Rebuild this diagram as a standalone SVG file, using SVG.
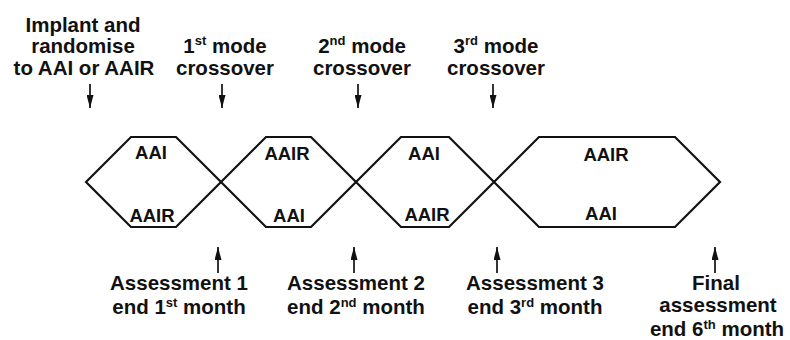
<svg xmlns="http://www.w3.org/2000/svg" width="790" height="340" viewBox="0 0 790 340">
<style>
  text { font-family: "Liberation Sans", Arial, sans-serif; font-weight: bold; fill: #111; text-anchor: middle; }
  .lbl { font-size: 20.5px; }
  .in { font-size: 18.5px; }
  .sup { font-size: 13px; }
  .hex { fill: none; stroke: #111; stroke-width: 2.2; stroke-linejoin: miter; }
  .arr { stroke: #111; stroke-width: 1.7; fill: none; }
</style>
<defs>
  <marker id="ah" viewBox="0 0 13 7" refX="13" refY="3.5" markerWidth="13" markerHeight="7" markerUnits="userSpaceOnUse" orient="auto">
    <path d="M0,0 L13,3.5 L0,7 Z" fill="#111"/>
  </marker>
</defs>
<rect width="790" height="340" fill="#fff"/>

<g id="connectors">
  <line class="arr" x1="90" y1="84" x2="90" y2="108" marker-end="url(#ah)"/>
  <line class="arr" x1="222" y1="84" x2="222" y2="108" marker-end="url(#ah)"/>
  <line class="arr" x1="358" y1="84" x2="358" y2="108" marker-end="url(#ah)"/>
  <line class="arr" x1="493" y1="84" x2="493" y2="108" marker-end="url(#ah)"/>
  <line class="arr" x1="218" y1="273" x2="218" y2="247" marker-end="url(#ah)"/>
  <line class="arr" x1="354" y1="273" x2="354" y2="247" marker-end="url(#ah)"/>
  <line class="arr" x1="497" y1="273" x2="497" y2="247" marker-end="url(#ah)"/>
  <line class="arr" x1="715" y1="273" x2="715" y2="247" marker-end="url(#ah)"/>
</g>

<g id="hex1">
  <polygon class="hex" points="86,182 131,137 176,137 221,182 176,227 131,227"/>
  <text class="in" x="151" y="159">AAI</text>
  <text class="in" x="152" y="222">AAIR</text>
</g>
<g id="hex2">
  <polygon class="hex" points="221,182 266,137 311,137 356,182 311,227 266,227"/>
  <text class="in" x="287" y="160">AAIR</text>
  <text class="in" x="289" y="222">AAI</text>
</g>
<g id="hex3">
  <polygon class="hex" points="356,182 401,137 449,137 494,182 449,227 401,227"/>
  <text class="in" x="424" y="160">AAI</text>
  <text class="in" x="427" y="221">AAIR</text>
</g>
<g id="hex4">
  <polygon class="hex" points="494,182 539,137 675,137 720,182 675,227 539,227"/>
  <text class="in" x="606" y="161">AAIR</text>
  <text class="in" x="601" y="220">AAI</text>
</g>

<g id="label-implant">
  <text class="lbl" x="83" y="32">Implant and</text>
  <text class="lbl" x="83" y="53">randomise</text>
  <text class="lbl" x="84" y="75">to AAI or AAIR</text>
</g>
<g id="label-cross1">
  <text class="lbl" x="225" y="53">1<tspan class="sup" dy="-8">st</tspan><tspan dy="8"> mode</tspan></text>
  <text class="lbl" x="225" y="75">crossover</text>
</g>
<g id="label-cross2">
  <text class="lbl" x="362" y="53">2<tspan class="sup" dy="-8">nd</tspan><tspan dy="8"> mode</tspan></text>
  <text class="lbl" x="362" y="75">crossover</text>
</g>
<g id="label-cross3">
  <text class="lbl" x="496" y="53">3<tspan class="sup" dy="-8">rd</tspan><tspan dy="8"> mode</tspan></text>
  <text class="lbl" x="496" y="75">crossover</text>
</g>

<g id="label-assess1">
  <text class="lbl" x="179" y="290">Assessment 1</text>
  <text class="lbl" x="179" y="314">end 1<tspan class="sup" dy="-7">st</tspan><tspan dy="7"> month</tspan></text>
</g>
<g id="label-assess2">
  <text class="lbl" x="356" y="290">Assessment 2</text>
  <text class="lbl" x="356" y="314">end 2<tspan class="sup" dy="-7">nd</tspan><tspan dy="7"> month</tspan></text>
</g>
<g id="label-assess3">
  <text class="lbl" x="535" y="290">Assessment 3</text>
  <text class="lbl" x="535" y="314">end 3<tspan class="sup" dy="-7">rd</tspan><tspan dy="7"> month</tspan></text>
</g>
<g id="label-final">
  <text class="lbl" x="716" y="290">Final</text>
  <text class="lbl" x="718" y="312">assessment</text>
  <text class="lbl" x="717" y="336">end 6<tspan class="sup" dy="-7">th</tspan><tspan dy="7"> month</tspan></text>
</g>
</svg>
